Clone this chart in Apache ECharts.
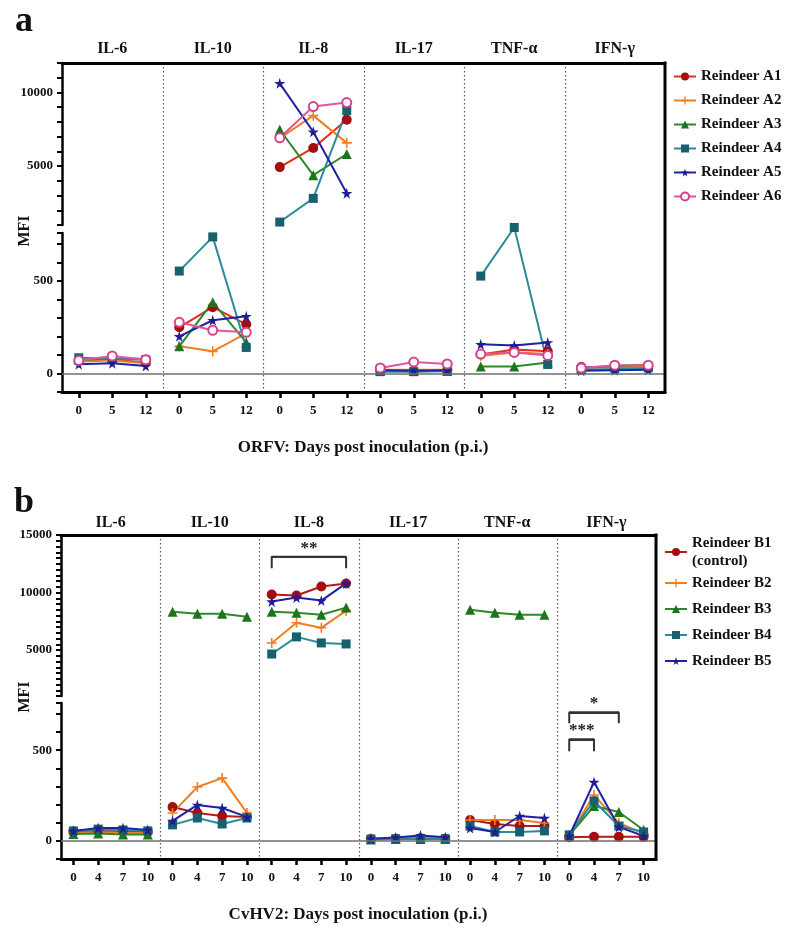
<!DOCTYPE html>
<html>
<head>
<meta charset="utf-8">
<script src="https://cdn.jsdelivr.net/npm/echarts@6/dist/echarts.min.js"></script>
<style>
html, body { margin: 0; padding: 0; background: #fff; }
#chartDiv { width: 797px; height: 937px; }
</style>
</head>
<body>
<div id="chartDiv"></div>
<script>
// 初始化图表
var myChart = echarts.init(document.getElementById('chartDiv'));

// 数据
var cytokines = ['IL-6', 'IL-10', 'IL-8', 'IL-17', 'TNF-α', 'IFN-γ'];
var daysA = ['0', '5', '12'];
var daysB = ['0', '4', '7', '10'];
var namesA = ['Reindeer A1', 'Reindeer A2', 'Reindeer A3', 'Reindeer A4', 'Reindeer A5', 'Reindeer A6'];
var namesB = ['Reindeer B1', 'Reindeer B2', 'Reindeer B3', 'Reindeer B4', 'Reindeer B5'];

// ORFV: 每头驯鹿, 按细胞因子顺序
var reindeerA1 = [[70, 75, 60], [250, 359, 266], [4930, 6230, 8150], [15, 12, 15], [103, 130, 120], [35, 35, 40]];
var reindeerA2 = [[65, 70, 55], [147, 120, 217], [6900, 8425, 6575], [20, 20, 20], [95, 115, 105], [30, 35, 38]];
var reindeerA3 = [[75, 80, 80], [147, 386, 168], [7466, 4383, 5822], [15, 15, 15], [38, 38, 60], [30, 40, 48]];
var reindeerA4 = [[85, 80, 75], [554, 739, 141], [1200, 2808, 8767], [10, 10, 12], [527, 790, 49], [20, 25, 30]];
var reindeerA5 = [[50, 55, 40], [201, 288, 310], [10617, 7329, 3150], [18, 15, 18], [158, 152, 168], [15, 18, 20]];
var reindeerA6 = [[70, 95, 75], [277, 234, 223], [6918, 9041, 9315], [30, 62, 52], [105, 114, 98], [30, 45, 45]];

// CvHV2
var reindeerB1 = [[50, 55, 52, 50], [187, 154, 137, 132], [9825, 9737, 10526, 10790], [10, 12, 15, 12], [115, 93, 82, 82], [20, 22, 22, 22]];
var reindeerB2 = [[45, 48, 45, 42], [154, 297, 346, 154], [5614, 7368, 6930, 8421], [12, 12, 14, 12], [115, 115, 115, 99], [30, 253, 99, 40]];
var reindeerB3 = [[38, 40, 35, 35], [8333, 8158, 8158, 7895], [8333, 8246, 8070, 8685], [8, 10, 10, 10], [8509, 8246, 8070, 8070], [30, 192, 159, 60]];
var reindeerB4 = [[55, 65, 60, 55], [88, 126, 93, 126], [4650, 6140, 5614, 5526], [10, 12, 12, 12], [82, 49, 49, 55], [33, 220, 82, 49]];
var reindeerB5 = [[55, 71, 71, 60], [110, 198, 181, 132], [9211, 9561, 9298, 10790], [12, 18, 30, 20], [71, 49, 137, 126], [27, 324, 77, 27]];

// 显著性标记
var bracketIL8 = [[0, 12100], [0, 13100], [3, 13100], [3, 12100]];
var bracketIFN1 = [[0, 648], [0, 709], [2, 709], [2, 648]];
var bracketIFN2 = [[0, 494], [0, 560], [1, 560], [1, 494]];

// 样式
var SERIF = '"Liberation Serif", "Times New Roman", serif';
var starPath = 'path://M50,0 L61,35 L98,35 L68,57 L79,91 L50,70 L21,91 L32,57 L2,35 L39,35 Z';
var plusPath = 'path://M42,0 H58 V42 H100 V58 H58 V100 H42 V58 H0 V42 H42 Z';
var stylesA = [
    {symbol: 'circle', size: 10, mark: '#a50e0e', line: '#e42d22'},
    {symbol: plusPath, size: 10, mark: '#f07f22', line: '#f07f22'},
    {symbol: 'triangle', size: 10, mark: '#1c741c', line: '#2a8a2a'},
    {symbol: 'rect', size: 9, mark: '#17606e', line: '#2b8b9c'},
    {symbol: starPath, size: 11, mark: '#1d1d96', line: '#2020a8'},
    {symbol: 'emptyCircle', size: 9, mark: '#d6428e', line: '#e0559b'}
];
var stylesB = [
    {symbol: 'circle', size: 10, mark: '#a50e0e', line: '#b01c1c'},
    {symbol: plusPath, size: 10, mark: '#f07f22', line: '#f07f22'},
    {symbol: 'triangle', size: 10, mark: '#1c741c', line: '#2a8a2a'},
    {symbol: 'rect', size: 9, mark: '#17606e', line: '#2b8b9c'},
    {symbol: starPath, size: 11, mark: '#1d1d96', line: '#2020a8'}
];

var panels = [
    {left: 62, right: 665, upTop: 63, upBottom: 225, lowTop: 233, lowBottom: 392, titleGap: 6,
     upMin: 1000, upMax: 12000, upStep: 1000, days: daysA, names: namesA,
     values: [reindeerA1, reindeerA2, reindeerA3, reindeerA4, reindeerA5, reindeerA6], styles: stylesA},
    {left: 61, right: 656, upTop: 535, upBottom: 696, lowTop: 703, lowBottom: 859, titleGap: 4,
     upMin: 1000, upMax: 15000, upStep: 500, days: daysB, names: namesB,
     values: [reindeerB1, reindeerB2, reindeerB3, reindeerB4, reindeerB5], styles: stylesB}
];

var grids = [], xAxes = [], yAxes = [], series = [], graphics = [];

panels.forEach(function (p) {
    var gw = (p.right - p.left) / 6;
    cytokines.forEach(function (c, g) {
        [0, 1].forEach(function (s) {
            var idx = grids.length;
            var top = s === 0 ? p.upTop : p.lowTop;
            var bottom = s === 0 ? p.upBottom : p.lowBottom;
            grids.push({left: p.left + g * gw, width: gw, top: top, height: bottom - top});
            if (s === 0) {
                xAxes.push({
                    type: 'category', gridIndex: idx, data: p.days, position: 'top',
                    axisLine: {onZero: false, lineStyle: {color: '#000', width: 3}},
                    axisTick: {show: false}, axisLabel: {show: false},
                    name: c, nameLocation: 'middle', nameGap: p.titleGap,
                    nameTextStyle: {fontFamily: SERIF, fontWeight: 'bold', fontSize: 16, color: '#111'}
                });
            } else {
                xAxes.push({
                    type: 'category', gridIndex: idx, data: p.days, position: 'bottom',
                    axisLine: {onZero: false, lineStyle: {color: '#000', width: 3}},
                    axisTick: {show: true, alignWithLabel: true, length: 6, lineStyle: {color: '#000', width: 2.5}},
                    axisLabel: {margin: 12, fontFamily: SERIF, fontWeight: 'bold', fontSize: 13, color: '#111'}
                });
            }
            yAxes.push({
                type: 'value', gridIndex: idx, show: g === 0,
                min: s === 0 ? p.upMin : -100,
                max: s === 0 ? p.upMax : 760,
                interval: s === 0 ? p.upStep : 100,
                axisLine: {show: true, lineStyle: {color: '#000', width: 2.5}},
                axisTick: {show: true, length: 5, lineStyle: {color: '#000', width: 2}},
                splitLine: {show: false},
                axisLabel: {
                    margin: 9, fontFamily: SERIF, fontWeight: 'bold', fontSize: 13, color: '#111',
                    formatter: function (v) {
                        if (s === 0) return v % 5000 === 0 ? String(v) : '';
                        return (v === 0 || v === 500) ? String(v) : '';
                    }
                }
            });
            if (s === 1) {
                // 零线
                series.push({
                    type: 'line', xAxisIndex: idx, yAxisIndex: idx, data: ['-', '-', '-'],
                    silent: true, symbol: 'none',
                    markLine: {
                        silent: true, symbol: 'none', label: {show: false},
                        lineStyle: {color: '#6e6e6e', width: 1.5, type: 'solid'},
                        data: [{yAxis: 0}]
                    }
                });
            }
            p.names.forEach(function (name, r) {
                var st = p.styles[r];
                var any = false;
                var data = p.values[r][g].map(function (v) {
                    var inSeg = s === 0 ? v >= 900 : v < 900;
                    if (inSeg) any = true;
                    return inSeg ? v : '-';
                });
                if (!any) return;
                series.push({
                    type: 'line', name: name, xAxisIndex: idx, yAxisIndex: idx, data: data,
                    symbol: st.symbol, symbolSize: st.size, clip: false,
                    itemStyle: {color: st.mark, borderColor: st.mark, borderWidth: st.symbol === 'emptyCircle' ? 1.6 : 0},
                    lineStyle: {color: st.line, width: 2},
                    emphasis: {disabled: true}
                });
            });
        });
    });

    // 分隔虚线与右边框
    for (var g = 1; g < 6; g++) {
        var x = Math.round(p.left + g * gw) + 0.5;
        graphics.push({type: 'line', silent: true, z: 0,
            shape: {x1: x, y1: p.upTop, x2: x, y2: p.lowBottom},
            style: {stroke: '#555', lineWidth: 1.2, lineDash: [1.5, 2.5]}});
    }
    graphics.push({type: 'line', silent: true, z: 10,
        shape: {x1: p.right, y1: p.upTop - 1.5, x2: p.right, y2: p.lowBottom + 1.5},
        style: {stroke: '#000', lineWidth: 3}});
});

// 显著性括号
function bracket(gridIdx, pts, text) {
    series.push({
        type: 'line', xAxisIndex: gridIdx, yAxisIndex: gridIdx, data: pts, clip: false,
        symbol: 'none', silent: true, lineStyle: {color: '#333', width: 2},
        markLine: {
            silent: true, symbol: 'none',
            lineStyle: {color: '#333', width: 2, type: 'solid'},
            label: {show: true, position: 'middle', formatter: text, distance: 0,
                fontFamily: SERIF, fontWeight: 'bold', fontSize: 17, color: '#222'},
            data: [[{coord: pts[1]}, {coord: pts[2]}]]
        }
    });
}
bracket(16, bracketIL8, '**');
bracket(23, bracketIFN1, '*');
bracket(23, bracketIFN2, '***');

// 文字
function txt(t, x, y, size, rot) {
    graphics.push({type: 'text', x: x, y: y, rotation: rot || 0, silent: true,
        style: {text: t, fill: '#111', font: 'bold ' + size + 'px ' + SERIF,
            textAlign: 'center', textVerticalAlign: 'middle'}});
}
txt('a', 24, 22, 36);
txt('b', 24, 503, 36);
txt('MFI', 25, 231, 16, Math.PI / 2);
txt('MFI', 25, 697, 16, Math.PI / 2);
txt('ORFV: Days post inoculation (p.i.)', 363, 448, 17);
txt('CvHV2: Days post inoculation (p.i.)', 358, 915, 17);

function legendText(lh) {
    return {fontFamily: SERIF, fontWeight: 'bold', fontSize: 15, color: '#111', lineHeight: lh,
        rich: {c: {fontFamily: SERIF, fontWeight: 'bold', fontSize: 15, color: '#111', lineHeight: 18}}};
}

var option = {
    backgroundColor: '#fff',
    animation: false,
    grid: grids,
    xAxis: xAxes,
    yAxis: yAxes,
    legend: [
        {data: namesA, orient: 'vertical', left: 668, top: 63, itemWidth: 22, itemHeight: 10, itemGap: 7,
         selectedMode: false, textStyle: legendText(17)},
        {data: namesB, orient: 'vertical', left: 659, top: 529, itemWidth: 22, itemHeight: 10, itemGap: 0,
         selectedMode: false, textStyle: legendText(26),
         formatter: function (n) { return n === 'Reindeer B1' ? '{c|Reindeer B1}\n{c|(control)}' : n; }}
    ],
    graphic: graphics,
    series: series
};
myChart.setOption(option);
</script>
</body>
</html>
